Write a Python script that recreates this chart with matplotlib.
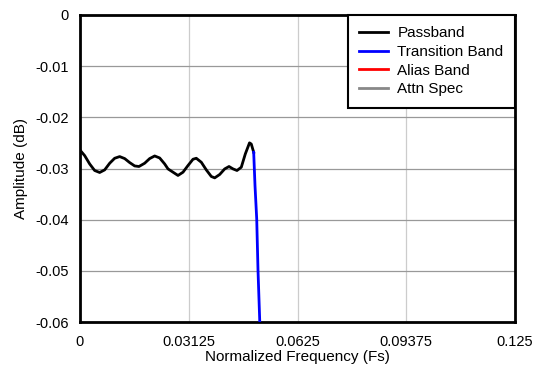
import matplotlib
matplotlib.use("Agg")
import matplotlib.pyplot as plt

plt.rcParams['font.family'] = ['Liberation Sans', 'DejaVu Sans']

# Passband response
pass_f = [0.0, 0.00134, 0.00278, 0.00421, 0.00565, 0.00709, 0.00853, 0.00996,
          0.0114, 0.01284, 0.01427, 0.01571, 0.01695, 0.01858, 0.02002, 0.02146,
          0.02289, 0.02433, 0.02529, 0.02672, 0.02816, 0.0296, 0.03103, 0.03247,
          0.03342, 0.03486, 0.03629, 0.03773, 0.03871, 0.04014, 0.04158, 0.04282,
          0.04397, 0.04511, 0.04635, 0.0475, 0.04871, 0.04922, 0.04991]
pass_db = [-0.0264, -0.02748, -0.02911, -0.03039, -0.03078, -0.03027, -0.02897, -0.02800,
           -0.02767, -0.02806, -0.02884, -0.02950, -0.02961, -0.02897, -0.02806, -0.02755,
           -0.02794, -0.02911, -0.03008, -0.03072, -0.03136, -0.03072, -0.02942, -0.02819,
           -0.02800, -0.02878, -0.03027, -0.03156, -0.03183, -0.03117, -0.03008, -0.02961,
           -0.03008, -0.03039, -0.02975, -0.02716, -0.02499, -0.02522, -0.02683]

# Transition band
trans_f = [0.04991, 0.05029, 0.05078, 0.05115, 0.05164, 0.0518]
trans_db = [-0.02683, -0.03338, -0.03986, -0.04991, -0.05963, -0.0625]

# Alias band / attenuation spec (outside visible range)
alias_f, alias_db = [], []
spec_f, spec_db = [], []

xticks = [0, 0.03125, 0.0625, 0.09375, 0.125]
xtick_labels = ['0', '0.03125', '0.0625', '0.09375', '0.125']
yticks = [0, -0.01, -0.02, -0.03, -0.04, -0.05, -0.06]
ytick_labels = ['0', '-0.01', '-0.02', '-0.03', '-0.04', '-0.05', '-0.06']

fig = plt.figure(figsize=(5.36, 3.70), dpi=100)
ax = fig.add_axes([80/536, 1-322/370, 435/536, 307/370])

ax.plot(pass_f, pass_db, color='black', lw=2, label='Passband', zorder=3,
        solid_joinstyle='round')
ax.plot(trans_f, trans_db, color='blue', lw=2, label='Transition Band', zorder=3)
ax.plot(alias_f, alias_db, color='red', lw=2, label='Alias Band')
ax.plot(spec_f, spec_db, color='#888888', lw=2, label='Attn Spec')

ax.set_xlim(0, 0.125)
ax.set_ylim(-0.06, 0)
ax.set_xticks(xticks)
ax.set_xticklabels(xtick_labels)
ax.set_yticks(yticks)
ax.set_yticklabels(ytick_labels)
ax.tick_params(axis='x', length=0, labelsize=10.5, pad=9)
ax.tick_params(axis='y', length=0, labelsize=10.5, pad=8)

ax.yaxis.grid(True, color='#999999', lw=0.9)
ax.xaxis.grid(True, color='#cccccc', lw=0.9)
ax.set_axisbelow(True)

for s in ax.spines.values():
    s.set_linewidth(2)
    s.set_color('black')

ax.set_xlabel('Normalized Frequency (Fs)', fontsize=11, labelpad=1)
ax.set_ylabel('Amplitude (dB)', fontsize=11, labelpad=5)

leg = ax.legend(loc='upper right', borderaxespad=0, fontsize=11, fancybox=False,
                framealpha=1, edgecolor='black', handlelength=1.9, labelspacing=0.3,
                borderpad=0.75, handletextpad=0.6)
leg.get_frame().set_linewidth(1.5)

fig.savefig('out.png', dpi=100)
